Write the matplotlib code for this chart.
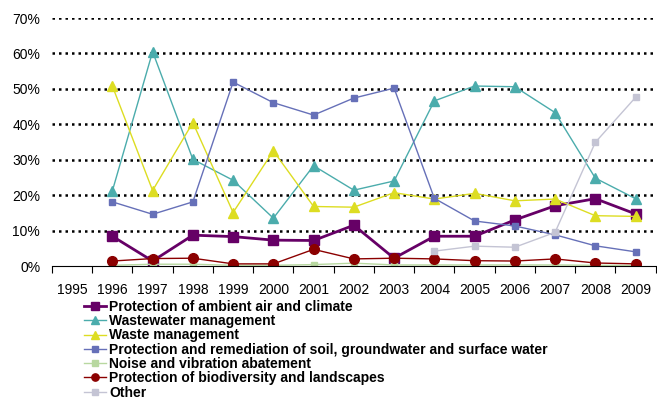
import numpy as np
import matplotlib.pyplot as plt
from matplotlib.ticker import FixedLocator, PercentFormatter

plt.rcParams['font.family'] = ['Liberation Sans', 'DejaVu Sans']

years = [str(y) for y in range(1995, 2010)]
nan = np.nan

# shares in % by domain, 1995..2009
air = [nan, 8.4, 1.4, 8.7, 8.3, 7.3, 7.2, 11.5, 2.2, 8.4, 8.4, 13.0, 17.0, 19.0, 14.7]
wastewater = [nan, 21.2, 60.5, 30.1, 24.2, 13.5, 28.3, 21.4, 24.0, 46.6, 50.8, 50.6, 43.3, 24.8, 19.0]
waste = [nan, 50.8, 21.3, 40.5, 15.1, 32.5, 16.8, 16.6, 20.7, 18.9, 20.5, 18.4, 18.9, 14.2, 14.0]
soil = [nan, 18.1, 14.6, 18.1, 51.9, 46.1, 42.6, 47.4, 50.2, 19.1, 12.7, 11.3, 8.8, 5.7, 4.0]
noise = [nan, 0.2, 0.5, 0.5, 0.2, 0.2, 0.4, 0.8, 0.3, 0.3, 0.3, 0.3, 0.3, 0.2, 0.1]
biodiv = [nan, 1.4, 2.1, 2.2, 0.6, 0.6, 4.7, 2.0, 2.2, 2.0, 1.5, 1.4, 2.0, 0.85, 0.6]
other = [nan, nan, nan, nan, nan, nan, nan, nan, nan, 4.2, 5.6, 5.3, 9.5, 34.9, 47.6]

series = [
    ("Protection of ambient air and climate", air, '#660066', 's', 7, 2.0),
    ("Wastewater management", wastewater, '#4bacac', '^', 7, 1.0),
    ("Waste management", waste, '#dddd22', '^', 7, 1.0),
    ("Protection and remediation of soil, groundwater and surface water", soil, '#6670b8', 's', 5, 1.0),
    ("Noise and vibration abatement", noise, '#b8d8a0', 's', 5, 1.0),
    ("Protection of biodiversity and landscapes", biodiv, '#8b0000', 'o', 7, 1.0),
    ("Other", other, '#c4c4d4', 's', 5, 1.0),
]

fig = plt.figure(figsize=(6.57, 4.0), dpi=100)
ax = fig.add_axes([52 / 657, 1 - 266 / 400, 1 - 52 / 657 - 0.002, (266 - 18) / 400])

x = np.arange(len(years))
for label, vals, col, mk, ms, lw in series:
    ax.plot(x, vals, color=col, marker=mk, markersize=ms, linewidth=lw,
            label=label, markeredgecolor=col)

ax.set_ylim(0, 70)
ax.set_yticks(np.arange(0, 71, 10))
ax.yaxis.set_major_formatter(PercentFormatter(decimals=0))
ax.tick_params(axis='y', length=0, labelsize=10, pad=8.5)
for v in range(10, 71, 10):
    ax.axhline(v, color='black', linestyle=(0, (1, 1.6)), linewidth=1.8, zorder=0)

ax.set_xlim(-0.5, len(years) - 0.5)
ax.xaxis.set_major_locator(FixedLocator(np.arange(-0.5, len(years), 1)))
ax.xaxis.set_major_formatter(plt.NullFormatter())
ax.set_xticks(x, minor=True)
ax.set_xticklabels(years, minor=True)
ax.tick_params(axis='x', which='major', length=5, direction='out', color='black')
ax.tick_params(axis='x', which='minor', length=0, labelsize=10, pad=12)

for s in ['top', 'right', 'left']:
    ax.spines[s].set_visible(False)
ax.spines['bottom'].set_color('black')

fig.legend(loc='upper left', bbox_to_anchor=(77 / 657, 1 - 293 / 400),
           frameon=False, borderpad=0, handlelength=1.6, handletextpad=0.2,
           labelspacing=0.02, prop={'weight': 'bold', 'size': 10}, markerscale=0.75)

fig.savefig('out.png', dpi=100)
